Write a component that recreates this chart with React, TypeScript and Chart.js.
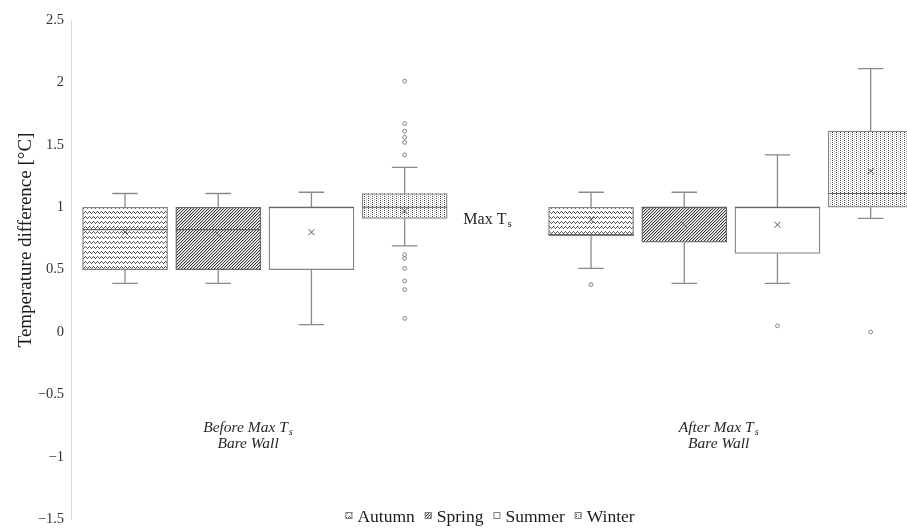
import React, { useEffect, useRef } from "react";
import { Chart, registerables } from "chart.js";

Chart.register(...registerables);

// ---------- data ----------
const seriesNames = ["Autumn", "Spring", "Summer", "Winter"];
const groupLabelLine1 = ["Before Max T", "After Max T"];
const groupLabelSub = ["s", "s"];
const groupLabelLine2 = ["Bare Wall", "Bare Wall"];
const annotationText = "Max T";
const annotationSub = "s";
const yTitle = "Temperature difference [°C]";
const yMin = -1.5;
const yMax = 2.5;
const yStep = 0.5;

// each row = one season, columns = [Before, After]
const whiskerLow = [[0.39, 0.51], [0.39, 0.39], [0.06, 0.39], [0.69, 0.91]];
const quartile1 = [[0.5, 0.77], [0.5, 0.72], [0.5, 0.63], [0.91, 1.0]];
const medians = [[0.82, 0.78], [0.82, 1.0], [1.0, 1.0], [1.0, 1.11]];
const quartile3 = [[1.0, 1.0], [1.0, 1.0], [1.0, 1.0], [1.11, 1.61]];
const whiskerHigh = [[1.11, 1.12], [1.11, 1.12], [1.12, 1.42], [1.32, 2.11]];
const means = [[0.8, 0.9], [0.78, 0.86], [0.8, 0.86], [0.97, 1.29]];
const outliers = [
  [[], [0.38]],
  [[], []],
  [[], [0.05]],
  [[2.01, 1.67, 1.61, 1.56, 1.52, 1.42, 0.62, 0.59, 0.51, 0.41, 0.34, 0.11], [0.0]],
];

// ---------- layout ----------
const slotsPerGroup = 5;
const xMin = -0.58;
const xMax = 8.39;
const groupLabelX = [1.32, 6.37];
const groupLabelY = [-0.8, -0.93];
const annotationX = 3.63;
const annotationY = 0.865;
const patternKinds = ["wave", "diag", "plain", "dots"];
const FONT = "'Liberation Serif', 'Times New Roman', serif";

function makePattern(kind: string): CanvasPattern | string {
  const c = document.createElement("canvas");
  if (kind === "wave") {
    c.width = 4; c.height = 5;
    const g = c.getContext("2d")!;
    g.fillStyle = "#fff"; g.fillRect(0, 0, 4, 5);
    g.fillStyle = "#555";
    [[0, 2], [1, 1], [2, 2], [3, 3]].forEach(([x, y]) => g.fillRect(x, y, 1, 1));
    return g.createPattern(c, "repeat")!;
  }
  if (kind === "diag") {
    c.width = 3; c.height = 3;
    const g = c.getContext("2d")!;
    g.fillStyle = "#fff"; g.fillRect(0, 0, 3, 3);
    g.fillStyle = "#3a3a3a";
    for (let i = 0; i < 3; i++) g.fillRect(i, 2 - i, 1, 1);
    g.fillStyle = "#c8c8c8";
    for (let i = 0; i < 3; i++) g.fillRect((i + 1) % 3, 2 - i, 1, 1);
    return g.createPattern(c, "repeat")!;
  }
  if (kind === "dots") {
    c.width = 4; c.height = 4;
    const g = c.getContext("2d")!;
    g.fillStyle = "#fff"; g.fillRect(0, 0, 4, 4);
    g.fillStyle = "#444"; g.fillRect(0, 0, 1, 1); g.fillRect(0, 2, 1, 1);
    g.fillStyle = "#b0b0b0"; g.fillRect(2, 1, 1, 1); g.fillRect(2, 3, 1, 1);
    return g.createPattern(c, "repeat")!;
  }
  return "#ffffff";
}

function drawWithSub(ctx: CanvasRenderingContext2D, main: string, sub: string, x: number, y: number, font: string, subFont: string, align: "left" | "center") {
  ctx.font = font;
  const w1 = ctx.measureText(main).width;
  ctx.font = subFont;
  const w2 = ctx.measureText(sub).width;
  const total = w1 + 1 + w2;
  const left = align === "center" ? x - total / 2 : x;
  ctx.textAlign = "left";
  ctx.textBaseline = "alphabetic";
  ctx.font = font;
  ctx.fillText(main, left, y);
  ctx.font = subFont;
  ctx.fillText(sub, left + w1 + 1, y + 3);
}

const boxPlugin = {
  id: "boxExtras",
  afterDatasetsDraw(chart: any) {
    const ctx: CanvasRenderingContext2D = chart.ctx;
    const ys = chart.scales.y;
    const area = chart.chartArea;
    const py = (v: number) => ys.getPixelForValue(v);
    const line = (x1: number, y1: number, x2: number, y2: number) => {
      ctx.beginPath(); ctx.moveTo(x1, y1); ctx.lineTo(x2, y2); ctx.stroke();
    };
    ctx.save();
    ctx.beginPath();
    ctx.rect(area.left, area.top - 5, area.right - area.left, area.bottom - area.top + 10);
    ctx.clip();
    chart.data.datasets.forEach((_ds: any, s: number) => {
      const meta = chart.getDatasetMeta(s);
      meta.data.forEach((bar: any, g: number) => {
        const { x, width } = bar.getProps(["x", "width"], true);
        const half = width / 2;
        const cap = width * 0.15;
        // whiskers
        ctx.strokeStyle = "#8a8a8a";
        ctx.lineWidth = 1.3;
        line(x, py(quartile3[s][g]), x, py(whiskerHigh[s][g]));
        line(x - cap, py(whiskerHigh[s][g]), x + cap, py(whiskerHigh[s][g]));
        line(x, py(quartile1[s][g]), x, py(whiskerLow[s][g]));
        line(x - cap, py(whiskerLow[s][g]), x + cap, py(whiskerLow[s][g]));
        // median
        ctx.strokeStyle = "#5f5f5f";
        ctx.lineWidth = 1.2;
        line(x - half, py(medians[s][g]), x + half, py(medians[s][g]));
        // mean
        const my = py(means[s][g]);
        ctx.strokeStyle = "#555";
        ctx.lineWidth = 1;
        line(x - 3, my - 3, x + 3, my + 3);
        line(x - 3, my + 3, x + 3, my - 3);
        // outliers
        ctx.strokeStyle = "#808080";
        ctx.fillStyle = "#fff";
        outliers[s][g].forEach((v: number) => {
          ctx.beginPath();
          ctx.arc(x, py(v), 1.9, 0, Math.PI * 2);
          ctx.fill();
          ctx.stroke();
        });
      });
    });
    ctx.restore();
  },
  afterDraw(chart: any) {
    const ctx: CanvasRenderingContext2D = chart.ctx;
    const xs = chart.scales.x;
    const ys = chart.scales.y;
    const area = chart.chartArea;
    ctx.save();
    // y title
    ctx.fillStyle = "#1a1a1a";
    ctx.font = `19px ${FONT}`;
    ctx.translate(31, 240);
    ctx.rotate(-Math.PI / 2);
    ctx.textAlign = "center";
    ctx.textBaseline = "alphabetic";
    ctx.fillText(yTitle, 0, 0);
    ctx.setTransform(1, 0, 0, 1, 0, 0);
    // group labels
    ctx.fillStyle = "#262626";
    groupLabelLine1.forEach((t, g) => {
      const cx = xs.getPixelForValue(groupLabelX[g]);
      drawWithSub(ctx, t, groupLabelSub[g], cx, ys.getPixelForValue(groupLabelY[0]), `italic 15.5px ${FONT}`, `italic 10.5px ${FONT}`, "center");
      ctx.font = `italic 15.5px ${FONT}`;
      ctx.textAlign = "center";
      ctx.fillText(groupLabelLine2[g], cx, ys.getPixelForValue(groupLabelY[1]));
    });
    // annotation
    drawWithSub(ctx, annotationText, annotationSub, xs.getPixelForValue(annotationX), ys.getPixelForValue(annotationY), `16px ${FONT}`, `11px ${FONT}`, "left");
    // legend
    const lf = `17.5px ${FONT}`;
    ctx.font = lf;
    const box = 7, gapBox = 5, gapItem = 10;
    const widths = chart.data.datasets.map((d: any) => ctx.measureText(d.label).width);
    const total = widths.reduce((a: number, w: number) => a + box + gapBox + w, 0) + gapItem * (widths.length - 1);
    let lx = (area.left + area.right) / 2 - total / 2 + 1;
    const base = 522;
    chart.data.datasets.forEach((d: any, i: number) => {
      ctx.fillStyle = d.backgroundColor;
      ctx.fillRect(lx, base - 10, box, box);
      ctx.strokeStyle = "#7f7f7f";
      ctx.lineWidth = 1;
      ctx.strokeRect(lx + 0.5, base - 9.5, box - 1, box - 1);
      ctx.fillStyle = "#1a1a1a";
      ctx.font = lf;
      ctx.textAlign = "left";
      ctx.textBaseline = "alphabetic";
      ctx.fillText(d.label, lx + box + gapBox, base);
      lx += box + gapBox + widths[i] + gapItem;
    });
    ctx.restore();
  },
};

export default function App() {
  const ref = useRef<HTMLCanvasElement | null>(null);
  useEffect(() => {
    if (!ref.current) return;
    const datasets = seriesNames.map((name, s) => ({
      label: name,
      data: quartile1[s].map((q, g) => ({ x: g * slotsPerGroup + s, y: [q, quartile3[s][g]] })),
      backgroundColor: makePattern(patternKinds[s]),
      borderColor: s === 1 ? "#666" : "#858585",
      borderWidth: 1.3,
      borderSkipped: false,
      barThickness: 85,
      grouped: false,
    }));
    const chart = new Chart(ref.current, {
      type: "bar",
      data: { datasets } as any,
      options: {
        responsive: false,
        animation: false,
        devicePixelRatio: 1,
        layout: { padding: { top: 20, bottom: 7, left: 0, right: 0 } },
        plugins: { legend: { display: false }, tooltip: { enabled: false } },
        scales: {
          x: {
            type: "linear",
            min: xMin,
            max: xMax,
            offset: false,
            display: false,
            ticks: { stepSize: 1 },
          },
          y: {
            min: yMin,
            max: yMax,
            ticks: {
              stepSize: yStep,
              padding: 7,
              color: "#333",
              font: { family: FONT, size: 14.5 },
              callback: (v: any) => (Number(v) < 0 ? "\u2212" + Math.abs(Number(v)) : String(v)),
            },
            grid: { display: false, drawTicks: false },
            border: { display: true, color: "#d9d9d9", width: 1 },
            afterFit: (scale: any) => { scale.width = 71; },
          },
        },
      } as any,
      plugins: [boxPlugin],
    });
    return () => chart.destroy();
  }, []);
  return (
    <div style={{ position: "fixed", left: 0, top: 0, width: 907, height: 530, background: "#fff", overflow: "hidden" }}>
      <canvas ref={ref} width={907} height={535} style={{ width: 907, height: 535, display: "block" }} />
    </div>
  );
}
